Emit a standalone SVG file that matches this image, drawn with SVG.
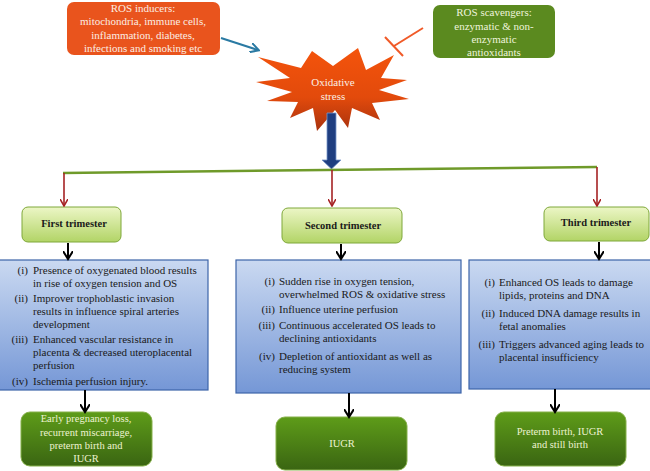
<svg xmlns="http://www.w3.org/2000/svg" width="650" height="471" viewBox="0 0 650 471" font-family="'Liberation Serif', 'DejaVu Serif', serif">
<defs>
<linearGradient id="gStar" x1="0" y1="0" x2="0" y2="1"><stop offset="0" stop-color="#f4540c"/><stop offset="0.6" stop-color="#e24a0c"/><stop offset="1" stop-color="#a8320e"/></linearGradient>
<linearGradient id="gTri" x1="0" y1="0" x2="0" y2="1"><stop offset="0" stop-color="#ecf6c6"/><stop offset="1" stop-color="#b2d466"/></linearGradient>
<linearGradient id="gBlue" x1="0" y1="0" x2="0" y2="1"><stop offset="0" stop-color="#cad9f1"/><stop offset="1" stop-color="#7597d6"/></linearGradient>
<linearGradient id="gOut" x1="0" y1="0" x2="0" y2="1"><stop offset="0" stop-color="#5e9c19"/><stop offset="1" stop-color="#3a6512"/></linearGradient>
<marker id="mRed" markerWidth="8" markerHeight="8" refX="6" refY="4" orient="auto" markerUnits="userSpaceOnUse"><path d="M0,0 L7,4 L0,8" fill="none" stroke="#a52224" stroke-width="1.6"/></marker>
<marker id="mBlack" markerWidth="10" markerHeight="10" refX="7" refY="5" orient="auto" markerUnits="userSpaceOnUse"><path d="M0,0 L8,5 L0,10" fill="none" stroke="#000" stroke-width="2"/></marker>
<marker id="mTeal" markerWidth="10" markerHeight="10" refX="8" refY="5" orient="auto" markerUnits="userSpaceOnUse"><path d="M0,0 L9,5 L0,10" fill="none" stroke="#2a7aa3" stroke-width="2"/></marker>
</defs>
<style>
text{font-family:'Liberation Serif','DejaVu Serif',serif;}
.w{fill:#fbeee4;font-size:11px;text-anchor:middle;}
.g{fill:#eef4dc;font-size:11px;text-anchor:middle;}
.tri{fill:#1a1a1a;font-size:10.5px;font-weight:bold;text-anchor:middle;}
.bt{fill:#1a1a1a;font-size:11px;}
.lb{fill:#1a1a1a;font-size:11px;text-anchor:end;}
.ot{fill:#eef3d2;font-size:10.5px;text-anchor:middle;}
.tribox{fill:url(#gTri);stroke:#7fa83a;stroke-width:1;}
.bluebox{fill:url(#gBlue);stroke:#3d64a8;stroke-width:1.2;}
.outbox{fill:url(#gOut);stroke:#86b04a;stroke-width:1;}
.red{stroke:#a52224;stroke-width:1.6;fill:none;marker-end:url(#mRed);}
.blk{stroke:#000;stroke-width:2;fill:none;marker-end:url(#mBlack);}
</style>

<g id="ros-inducers">
<rect x="67" y="2" width="153" height="53" rx="7" fill="#e9541d"/>
<text class="w" x="143" y="11.5">ROS inducers:</text>
<text class="w" x="143" y="25">mitochondria, immune cells,</text>
<text class="w" x="143" y="38.5">inflammation, diabetes,</text>
<text class="w" x="143" y="52">infections and smoking etc</text>
</g>

<g id="ros-scavengers">
<rect x="433" y="5" width="122" height="53" rx="7" fill="#5b8a1f"/>
<text class="g" x="494" y="15.5">ROS scavengers:</text>
<text class="g" x="494" y="30">enzymatic &amp; non-</text>
<text class="g" x="494" y="43">enzymatic</text>
<text class="g" x="494" y="55.5">antioxidants</text>
</g>

<g id="oxidative-stress">
<polygon fill="url(#gStar)" points="358,48 366,70 394,55 381,78 407,80 379,90 409,99 372,103 380,120 352,108 348,128 335,110 317,131 313,108 290,118 298,102 267,101 292,92 256,82 290,78 258,57 301,68 312,51 333,66"/>
<text class="w" x="333" y="85.5">Oxidative</text>
<text class="w" x="333" y="99.5">stress</text>
</g>

<g id="first-trimester">
<rect class="tribox" x="22" y="207" width="99" height="35" rx="6"/>
<text class="tri" x="74" y="226.5">First trimester</text>
</g>
<g id="second-trimester">
<rect class="tribox" x="282" y="208" width="120" height="35" rx="6"/>
<text class="tri" x="343" y="228.5">Second trimester</text>
</g>
<g id="third-trimester">
<rect class="tribox" x="544" y="207" width="105" height="34" rx="6"/>
<text class="tri" x="596" y="225.5">Third trimester</text>
</g>

<g id="first-details">
<rect class="bluebox" x="-1" y="260" width="209" height="130"/>
<text class="lb" x="28" y="274">(i)</text>
<text class="bt" x="33" y="274">Presence of oxygenated blood results</text>
<text class="bt" x="33" y="287">in rise of oxygen tension and OS</text>
<text class="lb" x="28" y="302">(ii)</text>
<text class="bt" x="33" y="302">Improver trophoblastic invasion</text>
<text class="bt" x="33" y="315">results in influence spiral arteries</text>
<text class="bt" x="33" y="328">development</text>
<text class="lb" x="28" y="343">(iii)</text>
<text class="bt" x="33" y="343">Enhanced vascular resistance in</text>
<text class="bt" x="33" y="356">placenta &amp; decreased uteroplacental</text>
<text class="bt" x="33" y="369">perfusion</text>
<text class="lb" x="28" y="385">(iv)</text>
<text class="bt" x="33" y="385">Ischemia perfusion injury.</text>
</g>

<g id="second-details">
<rect class="bluebox" x="236" y="260" width="225" height="133"/>
<text class="lb" x="275" y="285">(i)</text>
<text class="bt" x="279" y="285">Sudden rise in oxygen tension,</text>
<text class="bt" x="279" y="297.5">overwhelmed ROS &amp; oxidative stress</text>
<text class="lb" x="275" y="313">(ii)</text>
<text class="bt" x="279" y="313">Influence uterine perfusion</text>
<text class="lb" x="275" y="329">(iii)</text>
<text class="bt" x="279" y="329">Continuous accelerated OS leads to</text>
<text class="bt" x="279" y="341.5">declining antioxidants</text>
<text class="lb" x="275" y="360">(iv)</text>
<text class="bt" x="279" y="360">Depletion of antioxidant as well as</text>
<text class="bt" x="279" y="372.5">reducing system</text>
</g>

<g id="third-details">
<rect class="bluebox" x="469" y="260" width="182" height="129"/>
<text class="lb" x="495" y="285.5">(i)</text>
<text class="bt" x="499" y="285.5">Enhanced OS leads to damage</text>
<text class="bt" x="499" y="298.5">lipids, proteins and DNA</text>
<text class="lb" x="495" y="316.5">(ii)</text>
<text class="bt" x="499" y="316.5">Induced DNA damage results in</text>
<text class="bt" x="499" y="329.5">fetal anomalies</text>
<text class="lb" x="495" y="347.5">(iii)</text>
<text class="bt" x="499" y="347.5">Triggers advanced aging leads to</text>
<text class="bt" x="499" y="360.5">placental insufficiency</text>
</g>

<g id="first-outcome">
<rect class="outbox" x="21" y="412" width="131" height="54" rx="9"/>
<text class="ot" x="86" y="421.5">Early pregnancy loss,</text>
<text class="ot" x="86" y="435.5">recurrent miscarriage,</text>
<text class="ot" x="86" y="448.5">preterm birth and</text>
<text class="ot" x="86" y="461.5">IUGR</text>
</g>
<g id="second-outcome">
<rect class="outbox" x="276" y="417" width="131" height="53" rx="9"/>
<text class="ot" x="342" y="446.5">IUGR</text>
</g>
<g id="third-outcome">
<rect class="outbox" x="495" y="412" width="131" height="54" rx="9"/>
<text class="ot" x="560" y="434.5">Preterm birth, IUGR</text>
<text class="ot" x="560" y="447.5">and still birth</text>
</g>

<g id="connectors">
<line x1="221" y1="38" x2="258" y2="50" stroke="#2a7aa3" stroke-width="2" marker-end="url(#mTeal)"/>
<line x1="423" y1="28" x2="394" y2="46" stroke="#f05a28" stroke-width="2"/>
<line x1="385" y1="37" x2="403" y2="56" stroke="#f05a28" stroke-width="2"/>
<path d="M327,113 H336 V160 H341 L331.5,169 L322,160 H327 Z" fill="#1f3e80" stroke="#7a98cc" stroke-width="0.8"/>
<path d="M63,173 L597,167" stroke="#6f9a2a" stroke-width="2.5" fill="none"/>
<line class="red" x1="64" y1="173" x2="64" y2="205"/>
<line class="red" x1="332" y1="170" x2="332" y2="205"/>
<line class="red" x1="597" y1="167" x2="597" y2="205"/>
<line class="blk" x1="68" y1="243" x2="68" y2="258"/>
<line class="blk" x1="341" y1="244" x2="341" y2="258"/>
<line class="blk" x1="599" y1="242" x2="599" y2="258"/>
<line class="blk" x1="85" y1="390" x2="85" y2="411"/>
<line class="blk" x1="349" y1="393" x2="349" y2="416"/>
<line class="blk" x1="555" y1="389" x2="555" y2="411"/>
</g>
</svg>
